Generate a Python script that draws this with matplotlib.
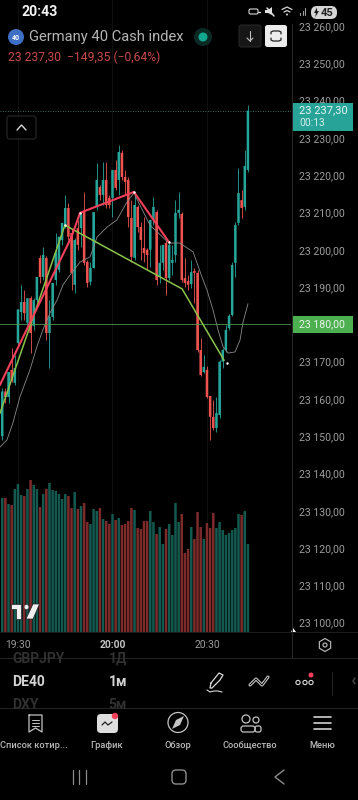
import matplotlib
matplotlib.use("Agg")
from matplotlib import pyplot as plt
from matplotlib.patches import Circle, FancyBboxPatch, Polygon, Rectangle, RegularPolygon

plt.rcParams["font.family"] = ["Roboto", "DejaVu Sans"]

# minutes after 19:30, one candle per minute
minutes = list(range(-5, 74))
opens = [23150, 23162, 23160.5, 23167.8, 23164.3, 23175, 23183.3, 23186, 23180.4, 23187,
         23179.6, 23186.5, 23197.8, 23192.7, 23197.8, 23177.7, 23182, 23191.9, 23194.6, 23202.6,
         23206.6, 23211.2, 23204.5, 23190.6, 23205.8, 23205.8, 23210.1, 23196.7, 23191.4, 23195.1,
         23211.5, 23216.8, 23214.7, 23218.7, 23213.9, 23213.9, 23221.4, 23218.7, 23226, 23219.5,
         23218.7, 23208.5, 23197.8, 23211.5, 23206.1, 23200.5, 23200, 23200, 23208, 23210.1,
         23192.7, 23196.5, 23201.8, 23192.4, 23196.5, 23198.6, 23209.9, 23209.6, 23192.4, 23191.6,
         23190.8, 23194.3, 23193.8, 23173.1, 23167.2, 23167.8, 23160.8, 23155.2, 23152.2, 23155.7,
         23170, 23173.1, 23179, 23182.5, 23196.5, 23207.2, 23213.3, 23211.5, 23221.4]
closes = [23162, 23160.5, 23167.2, 23165, 23168.3, 23184, 23186, 23183, 23187, 23177.7,
          23186.5, 23192.7, 23192.7, 23198.6, 23177.7, 23182, 23191.1, 23199.1, 23203.5, 23207.2,
          23211.2, 23203.5, 23193.8, 23202.6, 23201.3, 23209.3, 23196.5, 23191.1, 23195.1, 23210.1,
          23218.7, 23214.7, 23218.7, 23212, 23212, 23221.4, 23216.6, 23226.2, 23219.5, 23218.2,
          23208.8, 23198.1, 23212, 23206.1, 23202.6, 23199.1, 23198.6, 23208, 23211.5, 23191.9,
          23196.5, 23201.3, 23192.4, 23201.3, 23197.3, 23209.9, 23210.7, 23191.9, 23191.1, 23190.6,
          23194, 23193.8, 23173.1, 23166.4, 23168.6, 23160.5, 23155.2, 23152.2, 23156.2, 23170,
          23173.1, 23178.5, 23182.3, 23195.9, 23206.6, 23215.2, 23211.2, 23222.5, 23237.3]
highs = [23163, 23163, 23167.2, 23173.7, 23171.8, 23184, 23190.6, 23189.2, 23187, 23187.6,
         23187, 23192.7, 23198.6, 23200.7, 23198.3, 23186.5, 23191.1, 23204.5, 23203.5, 23207.2,
         23214.7, 23212.5, 23205.5, 23203.2, 23208, 23210.1, 23215.5, 23197.3, 23196.7, 23210.1,
         23223.3, 23217.4, 23223.5, 23223.5, 23214.7, 23221.4, 23224, 23228.1, 23226.8, 23221.4,
         23219.5, 23213.3, 23214.7, 23212, 23207.5, 23208.8, 23200.5, 23208, 23214.1, 23210.7,
         23201.3, 23201.3, 23202.6, 23201.8, 23201.3, 23213.3, 23215.5, 23210.1, 23197.8, 23193.2,
         23197.3, 23195.1, 23194.6, 23176.3, 23171.8, 23168.8, 23160.8, 23159.7, 23160.5, 23170.5,
         23173.7, 23179.8, 23182.8, 23196.7, 23207.5, 23222, 23216, 23226.8, 23238.8]
lows = [23149, 23159, 23159, 23164.5, 23163.8, 23174.5, 23181.2, 23181.2, 23179.8, 23172.3,
        23178.5, 23186, 23191.1, 23191.9, 23175.8, 23168.3, 23181.2, 23190.6, 23194, 23201.3,
        23205.8, 23202.6, 23189.2, 23188.4, 23200, 23200.7, 23196, 23190, 23190.6, 23195.1,
        23210.7, 23213.3, 23212, 23211.2, 23211.2, 23208.8, 23216, 23214.7, 23218.7, 23214.7,
        23206.1, 23196.7, 23197.3, 23204.8, 23197.3, 23196.7, 23194.6, 23195.4, 23206.6, 23190.6,
        23191.1, 23194.6, 23187.9, 23191.9, 23193.2, 23196.7, 23208.5, 23191.4, 23190, 23189.2,
        23189.8, 23185.7, 23172.6, 23166.2, 23167, 23160.3, 23149, 23151.7, 23151.2, 23154.9,
        23168.3, 23172.6, 23178.5, 23182.3, 23192.7, 23206.6, 23208.5, 23210.7, 23220.9]
volumes = [134, 134, 128, 127, 143, 148, 137, 136, 143, 152,
           147, 143, 125, 138, 143, 149, 142, 141, 138, 133,
           138, 136, 124, 140, 123, 126, 129, 110, 108, 123,
           121, 124, 113, 111, 108, 118, 112, 114, 107, 108,
           111, 124, 122, 104, 103, 111, 111, 121, 110, 98,
           105, 88, 103, 108, 97, 129, 110, 118, 79, 83,
           105, 93, 120, 105, 93, 109, 104, 119, 104, 110,
           102, 97, 99, 102, 104, 118, 117, 121, 88]

# thin average line
ma_minutes = [-5.7, -3.5, -1.6, 0.6, 3.8, 6, 7.9, 10.2, 12.4, 14.3, 16.5, 19.7, 22.9, 25.1, 28.3, 31.4,
              34.6, 36.8, 41.9, 47.9, 51.4, 55.6, 58.4, 60, 61.9, 63.5, 65.1, 66.7, 68.9, 70.5, 71.4, 73]
ma_prices = [23147.1, 23149, 23153.6, 23160.5, 23167.8, 23174, 23178.5, 23183.1, 23186.5, 23190.6,
             23193.2, 23196.7, 23198.1, 23203.4, 23206.1, 23208, 23212.8, 23215.2, 23206.6, 23201.8,
             23201.8, 23199.4, 23192.7, 23189.2, 23183.9, 23178.5, 23174, 23172.3, 23172.6, 23175.8,
             23180.4, 23185.5]

# hand drawn lines
red_minutes = [-5.7, 17, 19.7, 36.8, 47.9]
red_prices = [23163.8, 23203.5, 23209.9, 23215.5, 23202.1]
green_minutes = [-5.7, 14.9, 52.1, 65.4]
green_prices = [23156.2, 23206.6, 23189.5, 23170.4]
dot_minutes = [14.9, 19.7, 36.8, 47.9, 66.2]
dot_prices = [23206.6, 23209.9, 23215.5, 23202.1, 23169.6]

price_ticks = [23100, 23110, 23120, 23130, 23140, 23150, 23160, 23170, 23180,
               23190, 23200, 23210, 23220, 23230, 23240, 23250, 23260]
price_labels = ["23 100,00", "23 110,00", "23 120,00", "23 130,00", "23 140,00", "23 150,00",
                "23 160,00", "23 170,00", "23 180,00", "23 190,00", "23 200,00", "23 210,00",
                "23 220,00", "23 230,00", "23 240,00", "23 250,00", "23 260,00"]
time_ticks = [0, 30, 60]
time_labels = ["19:30", "20:00", "20:30"]
last_price = 23237.30
level_price = 23180

TEAL = "#26a69a"
RED = "#ef5350"
GREY = "#9c9c9c"

fig = plt.figure(figsize=(3.58, 8), dpi=100, facecolor="black")
rect = [0, 168 / 800, 291 / 358, 632 / 800]

# volume pane, heights run from the bottom of the chart
ax_vol = fig.add_axes(rect, zorder=1, facecolor="black")
vol_colors = ["#14594f" if c >= o else "#7c2a2a" for o, c in zip(opens, closes)]
for t in time_ticks:
    ax_vol.axvline(t, color="#101010", linewidth=0.7, zorder=0)
ax_vol.bar(minutes, volumes, width=0.8, color=vol_colors, linewidth=0, snap=False, zorder=1)
ax_vol.set_ylim(0, 632)
ax_vol.set_xlim(-5.71, 86.67)
ax_vol.axis("off")

ax = fig.add_axes(rect, zorder=2)
ax.patch.set_visible(False)
colors = [TEAL if c >= o else RED for o, c in zip(opens, closes)]
ax.vlines(minutes, lows, highs, colors=colors, linewidth=0.6, zorder=3)
ax.bar(minutes, [c - o for o, c in zip(opens, closes)], bottom=opens, width=0.8,
       color=colors, linewidth=0, zorder=3, snap=False)
ax.plot(ma_minutes, ma_prices, color="#8a8a8a", linewidth=0.6, zorder=4)
ax.plot(green_minutes, green_prices, color="#8bc34a", linewidth=1.1, zorder=5)
ax.plot(red_minutes, red_prices, color="#f2405a", linewidth=1.5, zorder=5)
ax.scatter(dot_minutes, dot_prices, s=3, color="white", linewidth=0, zorder=6)
ax.axhline(level_price, color="#4a9a4e", linewidth=0.6, zorder=4)
ax.axhline(last_price, color="#4f8f88", linewidth=0.6, linestyle=(0, (1, 2)), zorder=2)
ax.set_xlim(-5.71, 86.67)
ax.set_ylim(23097.5, 23266.97)
ax.yaxis.tick_right()
ax.set_yticks(price_ticks)
ax.set_yticklabels(price_labels)
ax.set_xticks(time_ticks)
ax.set_xticklabels(time_labels)
ax.tick_params(axis="y", length=0, pad=5.8, labelsize=7.6, labelcolor=GREY)
ax.tick_params(axis="x", length=0, pad=5.5, labelsize=7.4, labelcolor=GREY)
ax.get_xticklabels()[1].set_fontweight("bold")
ax.get_xticklabels()[1].set_color("#c4c4c4")
for spine in ax.spines.values():
    spine.set_visible(False)

# phone and app chrome, drawn in pixel coordinates
ui = fig.add_axes([0, 0, 1, 1], zorder=3)
ui.set_xlim(0, 358)
ui.set_ylim(800, 0)
ui.axis("off")


def line(xs, ys, color="#c8c8c8", lw=0.9):
    ui.plot(xs, ys, color=color, linewidth=lw, solid_capstyle="round", solid_joinstyle="round")


def box(x, y, w, h, face, edge="none", r=2.5, lw=0.7):
    ui.add_patch(FancyBboxPatch((x + r, y + r), w - 2 * r, h - 2 * r, boxstyle=f"round,pad={r}",
                                facecolor=face, edgecolor=edge, linewidth=lw))


def label(x, y, s, size, color, ha="left", weight="normal"):
    return ui.text(x, y, s, fontsize=size, color=color, ha=ha, va="center", fontweight=weight)


line([291.5, 291.5], [24, 657], "#2a2a2a", 0.7)
line([0, 358], [632, 632], "#1c1c1c", 0.7)
line([0, 358], [657.5, 657.5], "#262626", 0.7)
line([0, 358], [707.5, 707.5], "#262626", 0.7)
ui.add_patch(Polygon([(291, 632), (296, 632), (293, 628)], facecolor="white", edgecolor="none"))

# status bar
label(21, 12, "20:43", 10.2, "#f2f2f2", weight="bold")
box(249, 9, 9, 5, "none", "#d8d8d8", r=1.5, lw=0.8)
line([258, 260], [11.5, 11.5], "#d8d8d8", 1)
line([267, 274], [8, 16], "#e0e0e0", 1.1)
ui.add_patch(Polygon([(265, 10), (268, 10), (272, 7), (272, 15), (268, 13), (265, 13)], facecolor="#e0e0e0"))
line([282, 287, 292], [9.5, 7, 9.5], "#d8d8d8", 0.9)
line([284, 287, 290], [12, 10.5, 12], "#d8d8d8", 0.9)
ui.add_patch(Circle((287, 14.5), 1, facecolor="#d8d8d8"))
line([300, 300], [13, 15], "#a0a0a0", 0.8)
line([302.5, 302.5], [10.5, 15], "#a0a0a0", 0.8)
line([305, 305], [8, 15], "#a0a0a0", 0.8)
box(311, 6, 26, 13, "#d6d6d6", r=6)
ui.add_patch(Polygon([(317, 7.5), (314, 13), (316, 13), (315, 17.5), (319, 11), (317, 11)], facecolor="#1a1a1a"))
label(327, 12.5, "45", 8, "#222222", ha="center", weight="bold")

# symbol header
ui.add_patch(Circle((16, 37), 8, facecolor="#3d6fc4"))
label(16, 37.5, "40", 5, "white", ha="center", weight="bold")
label(29, 37, "Germany 40 Cash index", 10.6, "#b4b4b4")
ui.add_patch(Circle((203, 37), 9, facecolor="#0b2a26"))
ui.add_patch(Circle((203, 37), 4.5, facecolor="#12a88f"))
label(8, 57, "23 237,30  −149,35 (−0,64%)", 8.7, "#c84a4a")
box(239, 25, 22, 22, "#161616", "#2a2a2a")
line([250, 250], [31, 41], "#bdbdbd", 0.8)
line([247, 250, 253], [38, 41, 38], "#bdbdbd", 0.8)
box(265, 25, 22, 22, "#ececec")
line([271, 271, 273, 279, 281, 281], [34, 32, 31, 31, 32, 34], "#222222", 0.9)
line([271, 271, 273, 279, 281, 281], [38, 40, 41, 41, 40, 38], "#222222", 0.9)
box(7, 116, 29, 23, "#000000", "#2e2e2e")
line([17, 21.5, 26], [130, 125, 130], "#d8d8d8", 1)

# price tags on the right edge
ui.add_patch(Rectangle((292, 103), 61, 28, facecolor="#27a397"))
label(299, 110.5, "23 237,30", 8, "#e6f5f3")
label(299, 123, "00:13", 7.4, "#d6efec")
ui.add_patch(Rectangle((292, 316), 61, 17, facecolor="#4caf50"))
label(299, 324.5, "23 180,00", 7.6, "#eaf6ea")

# logo
ui.add_patch(Polygon([(11, 604), (21, 604), (21, 619), (16, 619), (16, 609), (11, 609)],
                     facecolor="#f0f0f0", edgecolor="#222222", linewidth=0.5))
ui.add_patch(Circle((26.5, 607), 2.4, facecolor="#f0f0f0", edgecolor="#222222", linewidth=0.3))
ui.add_patch(Polygon([(33, 604), (39.5, 604), (33, 619), (26, 619)],
                     facecolor="#f0f0f0", edgecolor="#222222", linewidth=0.5))

# settings gear
ui.add_patch(RegularPolygon((325, 645), 6, radius=6.5, facecolor="none", edgecolor="#b0b0b0", linewidth=0.9))
ui.add_patch(Circle((325, 645), 2, facecolor="none", edgecolor="#b0b0b0", linewidth=0.9))

# symbol picker, rows cut off by the separators
picker = Rectangle((0, 658), 140, 47.5, transform=ui.transData)
for x, y, s, c, ha in [(12, 659, "GBPJPY", "#303030", "left"), (127, 659, "1Д", "#303030", "right"),
                       (12, 682, "DE40", "#d4d4d4", "left"), (127, 682, "1м", "#d4d4d4", "right"),
                       (12, 705, "DXY", "#303030", "left"), (127, 705, "5м", "#303030", "right")]:
    t = label(x, y, s, 10, c, ha=ha, weight="bold")
    t.set_clip_path(picker)

# toolbar icons
line([211, 219, 223, 220, 212, 210, 211], [683, 673, 675, 680, 688, 688, 683], "#d8d8d8", 0.9)
line([207, 210, 214, 218, 222], [690, 692, 691, 691, 692], "#d8d8d8", 0.8)
line([250, 256, 262, 268], [685, 679, 685, 677], "#d0d0d0", 2.2)
line([250, 256, 262, 268], [685, 679, 685, 677], "#000000", 0.7)
for cx in [298, 305, 311]:
    ui.add_patch(Circle((cx, 682.5), 2.1, facecolor="none", edgecolor="#d8d8d8", linewidth=0.8))
ui.add_patch(Circle((311, 675), 2.5, facecolor="#f2405a"))
line([331.5, 331.5], [672, 695], "#262626", 0.7)
line([355, 353, 355], [678, 681, 684], "#4a4a4a", 1)

# bottom navigation
line([29, 42, 42, 35.5, 29, 29], [715, 715, 732, 728, 732, 715], "#c4c4c4", 0.9)
for y in [719.5, 722.5, 725.5]:
    line([32, 39], [y, y], "#c4c4c4", 0.7)
box(97, 714, 21, 19, "#dedede", r=4)
line([102, 105, 108, 112], [725, 722, 725, 722], "#222222", 0.9)
ui.add_patch(Circle((115, 716), 3.2, facecolor="#f2405a"))
ui.add_patch(Circle((178, 722.5), 10, facecolor="none", edgecolor="#c4c4c4", linewidth=0.9))
ui.add_patch(Polygon([(184, 716), (180, 725), (172, 729), (176, 720)], facecolor="#c4c4c4"))
ui.add_patch(Circle((246, 719), 4, facecolor="none", edgecolor="#c4c4c4", linewidth=0.9))
ui.add_patch(Circle((256, 720), 3, facecolor="none", edgecolor="#c4c4c4", linewidth=0.9))
box(241, 726, 14, 6, "none", "#c4c4c4", r=2.5, lw=0.9)
box(255, 726, 6, 6, "none", "#c4c4c4", r=2, lw=0.9)
for y in [717, 723, 729]:
    line([314, 331], [y, y], "#d0d0d0", 1.2)
for x, s, c in [(34, "Список котир...", "#b8b8b8"), (107, "График", "#b8b8b8"), (178, "Обзор", "#b8b8b8"),
                (250, "Сообщество", "#b8b8b8"), (322, "Меню", "#b8b8b8")]:
    label(x, 745, s, 6.7, c, ha="center", weight="medium")

# android buttons
for x in [72.5, 79, 85.5]:
    line([x, x], [770, 784], "#8c8c8c", 0.9)
box(172, 770, 14, 14, "none", "#8c8c8c", r=4, lw=1)
line([284, 275, 284], [770, 777, 784], "#8c8c8c", 1)

fig.savefig("out.png", dpi=100, facecolor="black")
